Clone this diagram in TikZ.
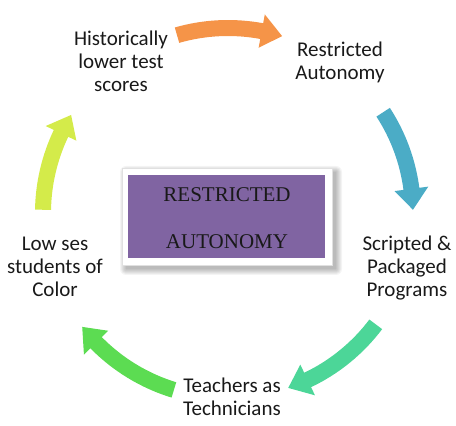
\documentclass[tikz,border=0pt]{standalone}
\usepackage{fontspec}
\setmainfont{Carlito}
\newfontfamily\boxfont{Liberation Serif}
\definecolor{arOrange}{RGB}{245,148,72}
\definecolor{arBlue}{RGB}{75,172,198}
\definecolor{arTeal}{RGB}{76,214,152}
\definecolor{arGreen}{RGB}{92,220,82}
\definecolor{arYellow}{RGB}{212,235,74}
\definecolor{boxPurple}{RGB}{128,100,162}
\definecolor{txt}{RGB}{25,25,25}
\newcommand{\cyclearrow}[3]{%
  \fill[#3] (#1:193pt) arc[start angle=#1, end angle=#2+6.5, radius=193pt]
    -- (#2+6.5:202pt) -- (#2:185pt) -- (#2+6.5:168pt) -- (#2+6.5:177pt)
    arc[start angle=#2+6.5, end angle=#1, radius=177pt] -- cycle;}
\begin{document}
\begin{tikzpicture}[x=1pt,y=1pt,
  lbl/.style={font=\fontsize{21}{23}\selectfont, text=txt, align=center, inner sep=0pt},
  boxtxt/.style={font=\boxfont\fontsize{21}{24}\selectfont, text=txt, inner sep=0pt}]
\useasboundingbox (0,0) rectangle (456,426);
\begin{scope}[shift={(228,213)}]
  \cyclearrow{106}{73}{arOrange}
  \cyclearrow{33}{1}{arBlue}
  \cyclearrow{-37}{-71}{arTeal}
  \cyclearrow{-107}{-142}{arGreen}
  \cyclearrow{179}{148}{arYellow}
\end{scope}
% central box with soft shadow
\foreach \e in {0,1,...,6}{
  \fill[black, opacity=0.045, rounded corners=\e pt]
    (126-\e,157-\e) rectangle (336+\e,254+\e);
}
\fill[white] (122,161) rectangle (332,258);
\draw[black!12, line width=0.6pt] (122,161) rectangle (332,258);
\node[fill=boxPurple, minimum width=197pt, minimum height=83pt, inner sep=0pt, anchor=south west] (box) at (128,168) {};
\node[boxtxt] (t1) at (227,231) {RESTRICTED};
\node[boxtxt] (t2) at (227,184) {AUTONOMY};
% labels
\node[lbl] (hist) at (121,364.5) {Historically\\lower test\\scores};
\node[lbl] (restr) at (340,363.5) {Restricted\\Autonomy};
\node[lbl] (scr) at (407,158) {Scripted \&\\Packaged\\Programs};
\node[lbl] (teach) at (232,29.5) {Teachers as\\Technicians};
\node[lbl] (low) at (55,159) {Low ses\\students of\\Color};
\end{tikzpicture}
\end{document}
